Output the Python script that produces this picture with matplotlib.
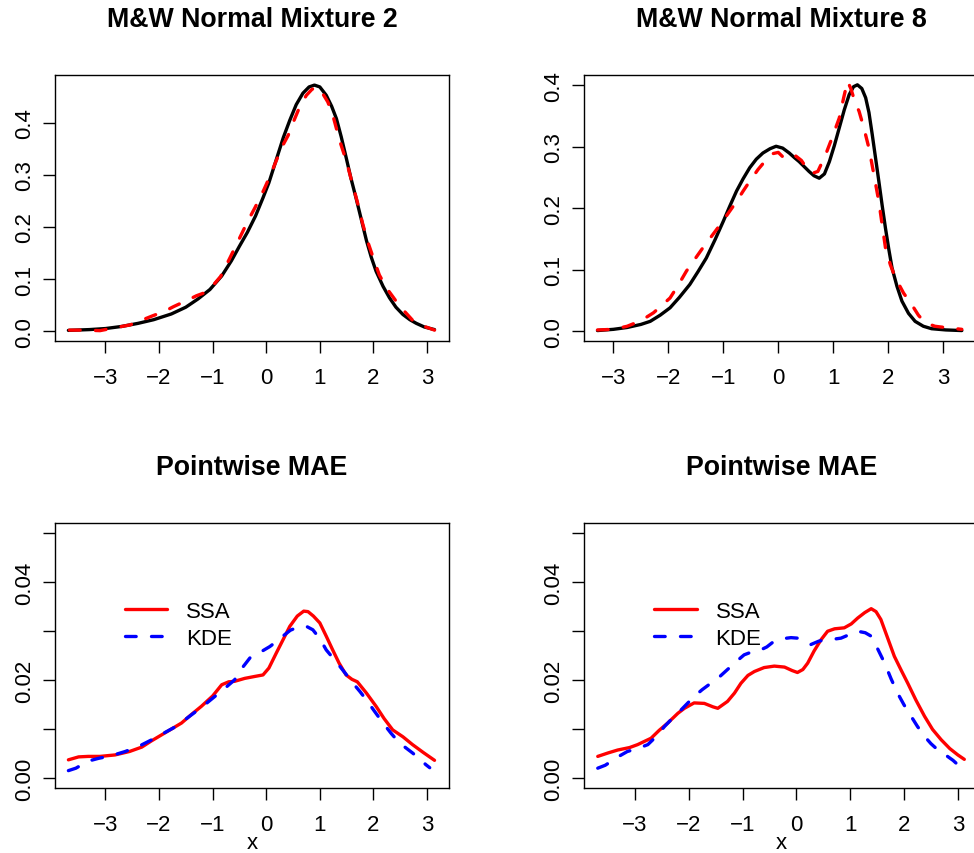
import matplotlib
matplotlib.use("Agg")
import matplotlib.pyplot as plt

plt.rcParams['font.family'] = ['Liberation Sans', 'DejaVu Sans']

# ---------------- data ----------------
titles = ["M&W Normal Mixture 2", "M&W Normal Mixture 8", "Pointwise MAE", "Pointwise MAE"]
legend_labels = ["SSA", "KDE"]

# Panel 1: true density (black) and estimate (red dashed)
p1_true_x = [-3.69, -3.3, -3.0, -2.7, -2.39, -2.1, -1.77, -1.5, -1.27, -1.05, -0.83, -0.65, -0.5, -0.35,
             -0.2, -0.06, 0.05, 0.19, 0.32, 0.44, 0.56, 0.685, 0.80, 0.90, 1.0, 1.12, 1.22, 1.31, 1.40,
             1.49, 1.58, 1.68, 1.78, 1.87, 1.96, 2.05, 2.18, 2.30, 2.42, 2.55, 2.68, 2.80, 2.95, 3.14]
p1_true_y = [0.0015, 0.003, 0.005, 0.009, 0.015, 0.022, 0.033, 0.046, 0.062, 0.080, 0.106, 0.135, 0.163,
             0.190, 0.221, 0.256, 0.285, 0.330, 0.372, 0.405, 0.435, 0.457, 0.469, 0.4725, 0.469, 0.453,
             0.432, 0.408, 0.373, 0.334, 0.294, 0.254, 0.212, 0.174, 0.142, 0.115, 0.086, 0.064, 0.046,
             0.032, 0.022, 0.015, 0.008, 0.003]
p1_est_x = [-3.67, -3.4, -3.1, -2.9, -2.54, -2.3, -2.13, -1.9, -1.73, -1.5, -1.30, -1.17, -1.0, -0.85,
            -0.68, -0.50, -0.35, -0.21, -0.05, 0.08, 0.19, 0.30, 0.41, 0.52, 0.63, 0.75, 0.85, 0.93, 1.02,
            1.15, 1.25, 1.37, 1.50, 1.60, 1.70, 1.80, 1.90, 2.00, 2.11, 2.25, 2.42, 2.58, 2.73, 2.90, 3.14]
p1_est_y = [0.002, 0.002, 0.001, 0.005, 0.012, 0.022, 0.029, 0.038, 0.047, 0.058, 0.068, 0.073, 0.087,
            0.105, 0.140, 0.178, 0.210, 0.237, 0.270, 0.300, 0.328, 0.355, 0.376, 0.405, 0.432, 0.453,
            0.464, 0.469, 0.462, 0.440, 0.412, 0.366, 0.325, 0.286, 0.248, 0.206, 0.170, 0.140, 0.108,
            0.082, 0.058, 0.038, 0.021, 0.011, 0.002]

# Panel 2
p2_true_x = [-3.29, -3.0, -2.75, -2.5, -2.33, -2.15, -1.97, -1.8, -1.61, -1.46, -1.31, -1.15, -1.00, -0.88,
             -0.76, -0.64, -0.52, -0.40, -0.28, -0.15, -0.04, 0.08, 0.2, 0.3, 0.38, 0.47, 0.56, 0.65, 0.745,
             0.84, 0.93, 1.02, 1.11, 1.20, 1.29, 1.37, 1.44, 1.52, 1.59, 1.65, 1.71, 1.77, 1.83, 1.89,
             1.95, 2.01, 2.07, 2.16, 2.25, 2.37, 2.49, 2.64, 2.79, 3.05, 3.34]
p2_true_y = [0.001, 0.003, 0.006, 0.011, 0.016, 0.026, 0.038, 0.055, 0.076, 0.097, 0.119, 0.149, 0.179,
             0.204, 0.228, 0.248, 0.266, 0.280, 0.290, 0.297, 0.301, 0.298, 0.290, 0.282, 0.276, 0.268,
             0.260, 0.253, 0.249, 0.256, 0.276, 0.302, 0.331, 0.360, 0.385, 0.398, 0.401, 0.395, 0.380,
             0.356, 0.320, 0.282, 0.244, 0.205, 0.168, 0.134, 0.103, 0.073, 0.049, 0.029, 0.016, 0.008,
             0.004, 0.002, 0.001]
p2_est_x = [-3.29, -3.0, -2.75, -2.5, -2.27, -1.97, -1.82, -1.67, -1.52, -1.37, -1.21, -1.06, -0.91, -0.76,
            -0.64, -0.52, -0.37, -0.22, -0.10, 0.0, 0.08, 0.18, 0.32, 0.42, 0.52, 0.62, 0.72, 0.86, 0.98,
            1.11, 1.19, 1.26, 1.32, 1.40, 1.47, 1.56, 1.65, 1.74, 1.83, 1.95, 2.04, 2.13, 2.28, 2.43,
            2.55, 2.67, 2.85, 3.03, 3.34]
p2_est_y = [0.002, 0.003, 0.008, 0.017, 0.030, 0.054, 0.075, 0.098, 0.117, 0.136, 0.155, 0.173, 0.192,
            0.211, 0.228, 0.244, 0.263, 0.279, 0.289, 0.291, 0.284, 0.279, 0.285, 0.278, 0.265, 0.257,
            0.260, 0.287, 0.315, 0.347, 0.380, 0.407, 0.395, 0.372, 0.358, 0.330, 0.298, 0.255, 0.211,
            0.136, 0.108, 0.087, 0.062, 0.043, 0.026, 0.014, 0.008, 0.006, 0.003]

# Panel 3: pointwise MAE for mixture 2
p3_ssa_x = [-3.69, -3.5, -3.32, -3.1, -2.82, -2.55, -2.32, -2.15, -1.95, -1.78, -1.58, -1.40, -1.21, -1.0,
            -0.83, -0.70, -0.59, -0.40, -0.21, -0.06, 0.05, 0.19, 0.32, 0.44, 0.58, 0.70, 0.78, 0.88, 1.00,
            1.12, 1.24, 1.36, 1.49, 1.60, 1.70, 1.87, 2.05, 2.20, 2.36, 2.55, 2.73, 2.93, 3.14]
p3_ssa_y = [0.0038, 0.0044, 0.0045, 0.0045, 0.0048, 0.0055, 0.0064, 0.0076, 0.0089, 0.0100, 0.0113, 0.0130,
            0.0147, 0.0168, 0.0191, 0.0197, 0.0198, 0.0204, 0.0208, 0.0211, 0.0225, 0.0256, 0.0284, 0.0310,
            0.0331, 0.0341, 0.0340, 0.0331, 0.0317, 0.0290, 0.0262, 0.0235, 0.0211, 0.0202, 0.0197, 0.0174,
            0.0147, 0.0122, 0.0099, 0.0085, 0.0069, 0.0053, 0.0037]
p3_kde_x = [-3.69, -3.55, -3.44, -3.3, -3.13, -2.9, -2.63, -2.35, -2.08, -1.90, -1.70, -1.50, -1.33, -1.15,
            -0.96, -0.78, -0.59, -0.45, -0.28, -0.10, 0.07, 0.20, 0.31, 0.45, 0.62, 0.75, 0.87, 1.00, 1.12,
            1.25, 1.37, 1.50, 1.62, 1.75, 1.87, 2.02, 2.18, 2.33, 2.49, 2.61, 2.73, 2.85, 2.98, 3.05]
p3_kde_y = [0.0016, 0.0021, 0.0028, 0.0036, 0.0041, 0.0046, 0.0055, 0.0067, 0.0082, 0.0093, 0.0105, 0.0121,
            0.0135, 0.0150, 0.0167, 0.0183, 0.0201, 0.0225, 0.0249, 0.0258, 0.0269, 0.0280, 0.0290, 0.0302,
            0.0310, 0.0310, 0.0303, 0.0285, 0.0262, 0.0245, 0.0229, 0.0211, 0.0194, 0.0177, 0.0160, 0.0137,
            0.0113, 0.0092, 0.0072, 0.0062, 0.0052, 0.0041, 0.0028, 0.0022]

# Panel 4: pointwise MAE for mixture 8
p4_ssa_x = [-3.69, -3.5, -3.32, -3.1, -2.95, -2.70, -2.55, -2.39, -2.20, -2.08, -1.90, -1.71, -1.55, -1.46,
            -1.28, -1.15, -1.03, -0.90, -0.78, -0.60, -0.41, -0.22, -0.08, 0.02, 0.12, 0.21, 0.33, 0.46,
            0.58, 0.71, 0.89, 1.02, 1.14, 1.27, 1.39, 1.48, 1.57, 1.70, 1.82, 1.95, 2.07, 2.22, 2.38, 2.53,
            2.69, 2.85, 3.0, 3.12]
p4_ssa_y = [0.0045, 0.0052, 0.0058, 0.0063, 0.0069, 0.0082, 0.0098, 0.0113, 0.0133, 0.0143, 0.0154, 0.0153,
            0.0146, 0.0143, 0.0157, 0.0174, 0.0194, 0.0210, 0.0218, 0.0226, 0.0229, 0.0227, 0.0220, 0.0216,
            0.0222, 0.0235, 0.0260, 0.0283, 0.0300, 0.0305, 0.0307, 0.0315, 0.0327, 0.0338, 0.0346, 0.0340,
            0.0324, 0.0285, 0.0249, 0.0220, 0.0194, 0.0160, 0.0127, 0.0100, 0.0079, 0.0061, 0.0048, 0.0039]
p4_kde_x = [-3.69, -3.55, -3.44, -3.3, -3.14, -2.95, -2.76, -2.60, -2.45, -2.30, -2.14, -1.90, -1.75, -1.59,
            -1.43, -1.28, -1.12, -0.97, -0.85, -0.72, -0.55, -0.41, -0.25, -0.10, 0.02, 0.15, 0.27, 0.42,
            0.58, 0.70, 0.83, 0.98, 1.14, 1.28, 1.39, 1.52, 1.64, 1.76, 1.88, 2.00, 2.13, 2.25, 2.38, 2.50,
            2.63, 2.77, 2.91, 2.98]
p4_kde_y = [0.0021, 0.0027, 0.0035, 0.0045, 0.0055, 0.0061, 0.0069, 0.0086, 0.0106, 0.0123, 0.0140, 0.0167,
            0.0181, 0.0194, 0.0207, 0.0222, 0.0238, 0.0252, 0.0257, 0.0259, 0.0268, 0.0280, 0.0285, 0.0287,
            0.0286, 0.0280, 0.0273, 0.0280, 0.0283, 0.0284, 0.0286, 0.0293, 0.0300, 0.0297, 0.0290, 0.0262,
            0.0235, 0.0203, 0.0174, 0.0150, 0.0127, 0.0106, 0.0086, 0.0071, 0.0058, 0.0048, 0.0037, 0.0030]

xticks = [-3, -2, -1, 0, 1, 2, 3]
dens_yticks = [0.0, 0.1, 0.2, 0.3, 0.4]
dens_yticklabels = ["0.0", "0.1", "0.2", "0.3", "0.4"]
mae_yticks = [0.00, 0.01, 0.02, 0.03, 0.04, 0.05]
mae_yticklabels = ["0.00", "", "0.02", "", "0.04", ""]

# ---------------- figure ----------------
W, H = 974, 854
fig = plt.figure(figsize=(W / 100, H / 100), dpi=100)

def rect(left, top, width, height):
    return [left / W, 1 - (top + height) / H, width / W, height / H]

ax1 = fig.add_axes(rect(55, 76, 394, 266))
ax2 = fig.add_axes(rect(584.3, 76, 394, 266))
ax3 = fig.add_axes(rect(55, 524.3, 394, 265))
ax4 = fig.add_axes(rect(584.3, 524.3, 394, 265))

LW = 2.4
dash = (0, (3.2, 4.6))
TICK_FS = 16
TITLE_FS = 19.3

ax1.plot(p1_true_x, p1_true_y, color="black", lw=LW, solid_capstyle="round", solid_joinstyle="round")
ax1.plot(p1_est_x, p1_est_y, color="red", lw=LW, linestyle=dash, dash_capstyle="round")
ax2.plot(p2_true_x, p2_true_y, color="black", lw=LW, solid_capstyle="round", solid_joinstyle="round")
ax2.plot(p2_est_x, p2_est_y, color="red", lw=LW, linestyle=dash, dash_capstyle="round")

for ax, sx, sy, kx, ky in [(ax3, p3_ssa_x, p3_ssa_y, p3_kde_x, p3_kde_y),
                           (ax4, p4_ssa_x, p4_ssa_y, p4_kde_x, p4_kde_y)]:
    ax.plot(sx, sy, color="red", lw=LW, solid_capstyle="round", solid_joinstyle="round",
            label=legend_labels[0])
    ax.plot(kx, ky, color="blue", lw=LW, linestyle=dash, dash_capstyle="round",
            label=legend_labels[1])
    ax.legend(loc="upper left", bbox_to_anchor=(0.178, 0.706), frameon=False, fontsize=TICK_FS,
              handlelength=1.9, handletextpad=0.85, labelspacing=0.25, borderpad=0, borderaxespad=0)
    ax.set_xlabel("x", fontsize=TICK_FS, labelpad=-2)

ax1.set_xlim(-3.94, 3.41); ax1.set_ylim(-0.0189, 0.4919)
ax2.set_xlim(-3.53, 3.64); ax2.set_ylim(-0.016, 0.417)
ax3.set_xlim(-3.94, 3.41); ax3.set_ylim(-0.002, 0.052)
ax4.set_xlim(-3.94, 3.38); ax4.set_ylim(-0.002, 0.052)

for i, ax in enumerate([ax1, ax2, ax3, ax4]):
    ax.set_xticks(xticks)
    ax.set_xticklabels([str(t).replace("-", "\u2212") for t in xticks])
    if i < 2:
        ax.set_yticks(dens_yticks)
        ax.set_yticklabels(dens_yticklabels, rotation=90, va="center")
    else:
        ax.set_yticks(mae_yticks)
        ax.set_yticklabels(mae_yticklabels, rotation=90, va="center")
    ax.tick_params(direction="out", length=8.6, width=1.0, labelsize=TICK_FS, colors="black")
    ax.tick_params(axis="x", pad=10)
    ax.tick_params(axis="y", pad=6)
    for s in ax.spines.values():
        s.set_linewidth(1.0)
    ax.set_title(titles[i], fontsize=TITLE_FS, fontweight="bold", pad=35.4)

fig.savefig("out.png", dpi=100)
